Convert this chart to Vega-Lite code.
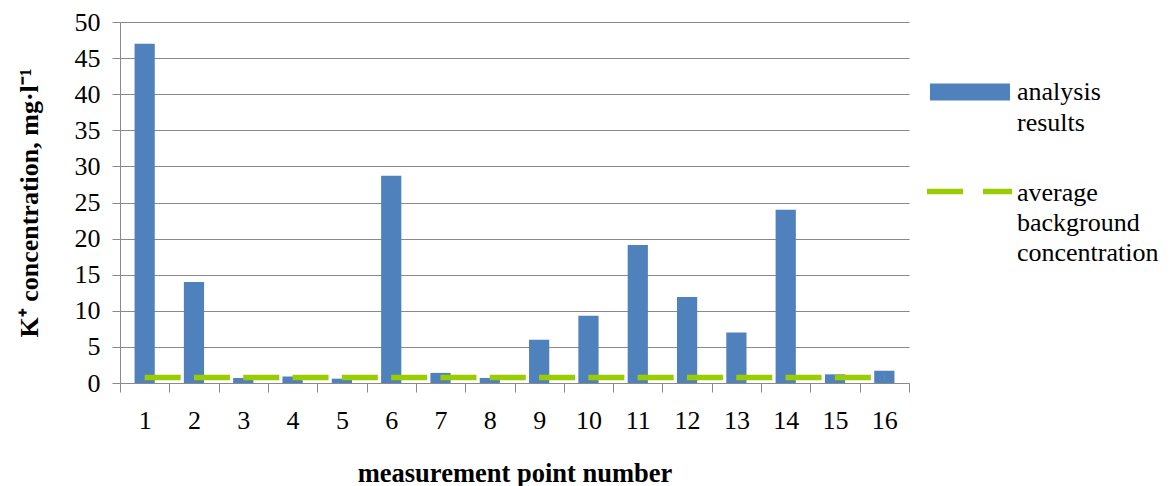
{
  "$schema": "https://vega.github.io/schema/vega-lite/v6.json",
  "width": 789,
  "height": 361,
  "autosize": "none",
  "padding": {"left": 120, "top": 22, "right": 263, "bottom": 103},
  "background": "white",
  "config": {
    "view": {"stroke": null},
    "font": "Liberation Serif",
    "axis": {
      "labelFont": "Liberation Serif",
      "titleFont": "Liberation Serif",
      "labelFontSize": 26,
      "titleFontSize": 26.5,
      "labelColor": "#000000",
      "titleColor": "#000000",
      "domainColor": "#898989",
      "tickColor": "#898989",
      "gridColor": "#898989",
      "domainWidth": 1,
      "tickWidth": 1,
      "gridWidth": 1
    },
    "legend": {
      "labelFont": "Liberation Serif",
      "labelFontSize": 26,
      "labelColor": "#000000",
      "padding": 0,
      "labelLimit": 300
    }
  },
  "data": {
    "values": [
      {"point": 1, "value": 47.0, "background": 0.75},
      {"point": 2, "value": 14.0, "background": 0.75},
      {"point": 3, "value": 0.7, "background": 0.75},
      {"point": 4, "value": 0.9, "background": 0.75},
      {"point": 5, "value": 0.6, "background": 0.75},
      {"point": 6, "value": 28.7, "background": 0.75},
      {"point": 7, "value": 1.4, "background": 0.75},
      {"point": 8, "value": 0.7, "background": 0.75},
      {"point": 9, "value": 6.0, "background": 0.75},
      {"point": 10, "value": 9.3, "background": 0.75},
      {"point": 11, "value": 19.1, "background": 0.75},
      {"point": 12, "value": 11.9, "background": 0.75},
      {"point": 13, "value": 7.0, "background": 0.75},
      {"point": 14, "value": 24.0, "background": 0.75},
      {"point": 15, "value": 1.2, "background": 0.75},
      {"point": 16, "value": 1.7, "background": 0.75}
    ]
  },
  "encoding": {
    "x": {
      "field": "point",
      "type": "ordinal",
      "scale": {"paddingInner": 0, "paddingOuter": 0},
      "axis": {
        "title": "measurement point number",
        "titleFontWeight": "bold",
        "titlePadding": 27,
        "labelAngle": 0,
        "tickBand": "extent",
        "tickSize": 9,
        "labelPadding": 15,
        "grid": false
      }
    }
  },
  "layer": [
    {
      "mark": {"type": "bar", "width": {"band": 0.41}},
      "encoding": {
        "y": {
          "field": "value",
          "type": "quantitative",
          "scale": {"domain": [0, 50], "nice": false},
          "axis": {
            "title": "K⁺ concentration, mg·l⁻¹",
            "titleFontWeight": "bold",
            "titleFontSize": 26,
            "values": [0, 5, 10, 15, 20, 25, 30, 35, 40, 45, 50],
            "labelOverlap": false,
            "tickSize": 8,
            "labelPadding": 12,
            "titlePadding": 32,
            "grid": true
          }
        },
        "fill": {
          "datum": "analysis results",
          "type": "nominal",
          "scale": {"range": ["#4F81BD"]},
          "legend": {
            "title": null,
            "orient": "none",
            "legendX": 810,
            "legendY": 30,
            "symbolType": "M-1,-0.21H1V0.21H-1Z",
            "symbolSize": 6400,
            "symbolStrokeWidth": 0,
            "labelExpr": "['analysis', 'results']",
            "labelBaseline": "top",
            "labelOffset": 7,
            "encode": {"labels": {"update": {"lineHeight": {"value": 31}, "dy": {"value": -13}}}}
          }
        }
      }
    },
    {
      "mark": {"type": "line", "strokeDash": [36, 13.3], "strokeWidth": 5.5, "strokeCap": "butt"},
      "encoding": {
        "y": {
          "field": "background",
          "type": "quantitative",
          "scale": {"domain": [0, 50], "nice": false},
          "axis": {
            "title": "K⁺ concentration, mg·l⁻¹",
            "titleFontWeight": "bold",
            "titleFontSize": 26,
            "values": [0, 5, 10, 15, 20, 25, 30, 35, 40, 45, 50],
            "labelOverlap": false,
            "tickSize": 8,
            "labelPadding": 12,
            "titlePadding": 32,
            "grid": true
          }
        },
        "stroke": {
          "datum": "average background concentration",
          "type": "nominal",
          "scale": {"range": ["#9ACD00"]},
          "legend": {
            "title": null,
            "orient": "none",
            "legendX": 804,
            "legendY": 124,
            "symbolType": "stroke",
            "symbolSize": 7225,
            "symbolStrokeWidth": 5.5,
            "symbolDash": [36, 20],
            "labelExpr": "['average', 'background', 'concentration']",
            "labelBaseline": "top",
            "labelOffset": 2,
            "encode": {"labels": {"update": {"lineHeight": {"value": 30}, "dy": {"value": -12}}}}
          }
        }
      }
    }
  ]
}
